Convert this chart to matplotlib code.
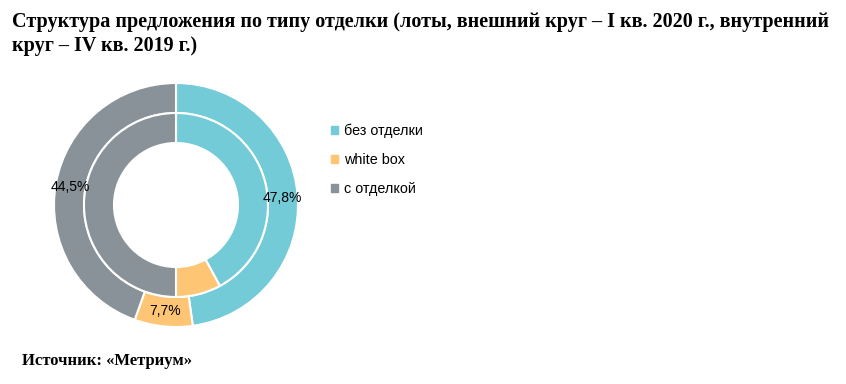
import numpy as np
import matplotlib.pyplot as plt

categories = ["без отделки", "white box", "с отделкой"]
outer_values = [47.8, 7.7, 44.5]      # I кв. 2020
inner_values = [42.1, 7.9, 50.0]      # IV кв. 2019
outer_labels = ["47,8%", "7,7%", "44,5%"]
colors = ["#72CBD6", "#FEC674", "#899298"]

fig = plt.figure(figsize=(8.46, 3.84), dpi=100)

# title and source
fig.text(12 / 846, 1 - 22 / 384,
         "Структура предложения по типу отделки (лоты, внешний круг – I кв. 2020 г., внутренний",
         family="Liberation Serif", fontweight="bold", fontsize=14.5, va="center", ha="left")
fig.text(12 / 846, 1 - 46 / 384, "круг – IV кв. 2019 г.)",
         family="Liberation Serif", fontweight="bold", fontsize=14.5, va="center", ha="left")
fig.text(22 / 846, 1 - 361 / 384, "Источник: «Метриум»",
         family="Liberation Serif", fontweight="bold", fontsize=12, va="center", ha="left")

# donut axes
R = 122
cx, cy = 176, 205
ax = fig.add_axes([(cx - R) / 846, (384 - cy - R) / 384, 2 * R / 846, 2 * R / 384])
ax.set_xlim(-1, 1)
ax.set_ylim(-1, 1)
ax.axis("off")

w = 30 / R
wedge_props = dict(width=w, edgecolor="white", linewidth=1.5)
outer, _ = ax.pie(outer_values, radius=1, colors=colors, startangle=90,
                  counterclock=False, wedgeprops=wedge_props)
ax.pie(inner_values, radius=1 - w, colors=colors, startangle=90,
       counterclock=False, wedgeprops=wedge_props)
ax.set_xlim(-1, 1)
ax.set_ylim(-1, 1)

r_lab = 1 - w / 2
for wedge, lab in zip(outer, outer_labels):
    ang = np.deg2rad((wedge.theta1 + wedge.theta2) / 2)
    ax.text(r_lab * np.cos(ang), r_lab * np.sin(ang), lab,
            ha="center", va="center", fontsize=10, family="Liberation Sans")

# legend
handles = [plt.Rectangle((0, 0), 1, 1, color=c) for c in colors]
fig.legend(handles, categories, loc="upper left",
           bbox_to_anchor=(318 / 846, 1 - 111 / 384), frameon=False,
           prop={"family": "Liberation Sans", "size": 10.4},
           handlelength=0.45, handleheight=0.45, handletextpad=0.45,
           labelspacing=1.03)

fig.savefig("out.png", dpi=100)
